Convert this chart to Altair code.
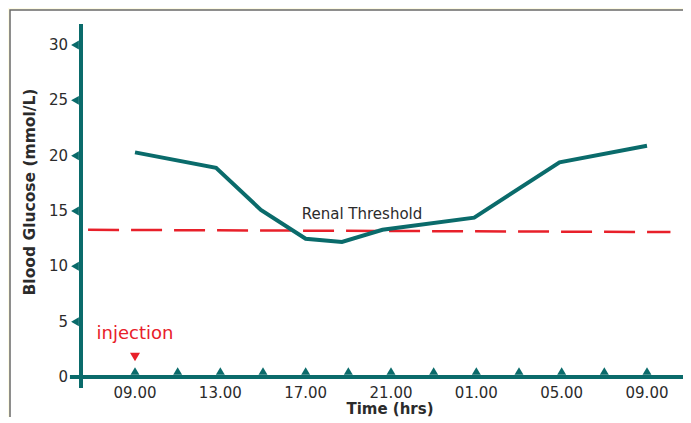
import altair as alt
import pandas as pd

# ---- data ----
hours = [0, 3.8, 5.9, 8.0, 9.7, 11.6, 15.9, 19.9, 24]
glucose = [20.3, 18.9, 15.1, 12.5, 12.2, 13.3, 14.4, 19.4, 20.9]

threshold_hours = [-2.2, 25.1]
threshold_vals = [13.3, 13.1]

x_tick_hours = list(range(0, 25, 2))
x_label_hours = [0, 4, 8, 12, 16, 20, 24]
x_labels = ["09.00", "13.00", "17.00", "21.00", "01.00", "05.00", "09.00"]
y_ticks = [5, 10, 15, 20, 25, 30]
y_labels = [0, 5, 10, 15, 20, 25, 30]

injection_hour = 0
threshold_label = "Renal Threshold"
threshold_label_pos = (10.64, 14.73)

TEAL = "#0a6b6b"
RED = "#e8202a"
TXT = "#2b2b2b"
FONT = "DejaVu Sans"

W, H = 600, 351
xs = alt.Scale(domain=[-2.531, 25.594], nice=False, zero=False)
ys = alt.Scale(domain=[0, 31.72], nice=False, zero=False)

line_df = pd.DataFrame({"t": hours, "g": glucose})
thr_df = pd.DataFrame({"t": threshold_hours, "g": threshold_vals})
xt_df = pd.DataFrame({"t": x_tick_hours})
xl_df = pd.DataFrame({"t": x_label_hours, "lab": x_labels})
yt_df = pd.DataFrame({"g": y_ticks})
yl_df = pd.DataFrame({"g": y_labels, "lab": [str(v) for v in y_labels]})
one = pd.DataFrame({"a": [0]})

X = lambda f="t": alt.X(f"{f}:Q", scale=xs, axis=None)
Y = lambda f="g": alt.Y(f"{f}:Q", scale=ys, axis=None)

panel = alt.Chart(one).mark_rect(fill="white", stroke="#6a6a6a", strokeWidth=1.5).encode(
    x=alt.value(-71), x2=alt.value(720), y=alt.value(-16), y2=alt.value(500)
)

thr = alt.Chart(thr_df).mark_line(color=RED, strokeWidth=2.5, strokeDash=[31, 12]).encode(
    x=X(), y=Y()
)

gl = alt.Chart(line_df).mark_line(color=TEAL, strokeWidth=4, strokeJoin="miter").encode(
    x=X(), y=Y()
)

xaxis = alt.Chart(pd.DataFrame({"t": [-3.05], "t2": [25.92], "g": [0]})).mark_rule(
    color=TEAL, strokeWidth=4
).encode(x=X(), x2="t2:Q", y=Y())

yaxis = alt.Chart(pd.DataFrame({"t": [-2.531], "g": [-1.0], "g2": [31.9]})).mark_rule(
    color=TEAL, strokeWidth=4
).encode(x=X(), y=Y(), y2="g2:Q")

xtri = alt.Chart(xt_df).mark_point(shape="triangle-up", filled=True, color=TEAL, size=80, opacity=1).encode(
    x=X(), y=alt.value(H - 6)
)

ytri = alt.Chart(yt_df).mark_point(shape="triangle-left", filled=True, color=TEAL, size=80, opacity=1).encode(
    x=alt.value(-6), y=Y()
)

xlab = alt.Chart(xl_df).mark_text(font=FONT, fontSize=15, color=TXT, baseline="alphabetic").encode(
    x=X(), y=alt.value(H + 21), text="lab:N"
)

ylab = alt.Chart(yl_df).mark_text(font=FONT, fontSize=15, color=TXT, align="right", baseline="middle").encode(
    x=alt.value(-13), y=Y(), text="lab:N"
)

inj_df = pd.DataFrame({"t": [injection_hour]})
inj_tri = alt.Chart(inj_df).mark_point(shape="triangle-down", filled=True, color=RED, size=100, opacity=1).encode(
    x=X(), y=alt.value(H - 20)
)
inj_txt = alt.Chart(inj_df).mark_text(font=FONT, fontSize=18, color=RED, baseline="alphabetic").encode(
    x=X(), y=alt.value(H - 38), text=alt.value("injection")
)

thr_txt = alt.Chart(pd.DataFrame({"t": [threshold_label_pos[0]], "g": [threshold_label_pos[1]],
                                  "lab": [threshold_label]})).mark_text(
    font=FONT, fontSize=15, color=TXT, baseline="middle"
).encode(x=X(), y=Y(), text="lab:N")

xtitle = alt.Chart(one).mark_text(font=FONT, fontSize=15, fontWeight="bold", color=TXT,
                                  baseline="alphabetic").encode(
    x=alt.value(309), y=alt.value(H + 37), text=alt.value("Time (hrs)")
)
ytitle = alt.Chart(one).mark_text(font=FONT, fontSize=15.5, fontWeight="bold", color=TXT, angle=270,
                                  baseline="middle").encode(
    x=alt.value(-51), y=alt.value(166), text=alt.value("Blood Glucose (mmol/L)")
)

chart = alt.layer(
    panel, thr, gl, xaxis, yaxis, xtri, ytri, xlab, ylab, inj_tri, inj_txt, thr_txt, xtitle, ytitle
).properties(
    width=W, height=H, background="#fffce6",
    autosize=alt.AutoSizeParams(type="none"),
    padding={"left": 73, "top": 18, "right": 2, "bottom": 40},
).configure_view(stroke=None, fill=None)

chart.save("out.html", embed_options={"renderer": "svg", "actions": False})
